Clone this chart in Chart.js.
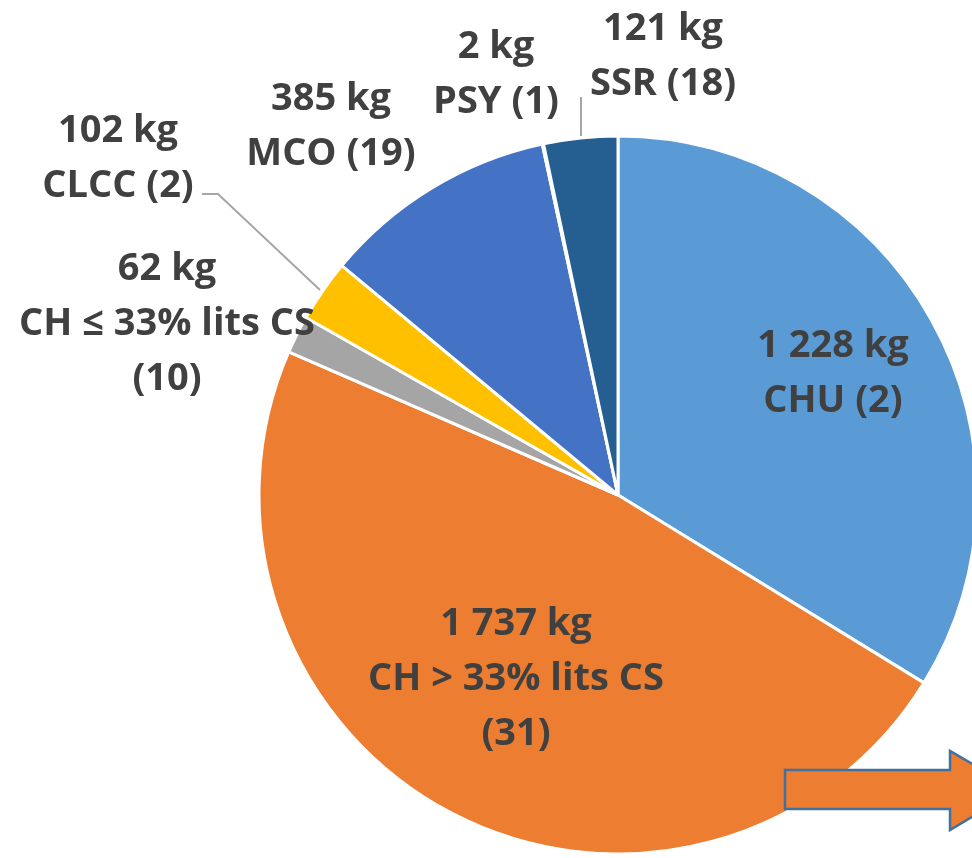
<!DOCTYPE html>
<html>
<head>
<meta charset="utf-8">
<script src="https://cdn.jsdelivr.net/npm/chart.js@4.4.1/dist/chart.umd.min.js"></script>
<style>
	html, body { margin: 0; padding: 0; background: #fff; overflow: hidden; }
	#wrap { position: absolute; left: 0; top: 0; width: 1030px; height: 858px; }
</style>
</head>
<body>
<div id="wrap"><canvas id="pie" width="1030" height="858"></canvas></div>
<script>
// data (kg, number of establishments)
const categories = ['CHU', 'CH > 33% lits CS', 'CH ≤ 33% lits CS', 'CLCC', 'MCO', 'PSY', 'SSR'];
const weights = [1228, 1737, 62, 102, 385, 2, 121];
const counts = [2, 31, 10, 2, 19, 1, 18];
const colors = ['#5B9BD5', '#ED7D31', '#A5A5A5', '#FFC000', '#4472C4', '#70AD47', '#255E91'];

// label layout: centre x, baseline of first line, optional leader line
const labelLayout = [
	{ x: 833, y: 357 },
	{ x: 516, y: 635 },
	{ x: 167, y: 280 },
	{ x: 118, y: 142, leader: [[202, 194], [218, 194], [320, 290]] },
	{ x: 331, y: 110 },
	{ x: 496, y: 58 },
	{ x: 663, y: 40, leader: [[581, 97], [581, 136]] }
];

const fmtKg = v => v.toLocaleString('fr-FR').replace(/\s/g, ' ') + ' kg';

// split long category names onto two lines like the original
function labelLines(i) {
	const name = categories[i], n = `(${counts[i]})`;
	const lines = [fmtKg(weights[i])];
	if (name.length > 10) { lines.push(name, n); } else { lines.push(`${name} ${n}`); }
	return lines;
}

const labelsPlugin = {
	id: 'labels',
	afterDraw(chart) {
		const ctx = chart.ctx;
		ctx.save();
		// leader lines
		ctx.strokeStyle = '#A6A6A6';
		ctx.lineWidth = 2;
		labelLayout.forEach(l => {
			if (!l.leader) return;
			ctx.beginPath();
			l.leader.forEach((p, k) => k ? ctx.lineTo(p[0], p[1]) : ctx.moveTo(p[0], p[1]));
			ctx.stroke();
		});
		ctx.font = 'bold 38px "Open Sans"';
		ctx.fillStyle = '#404040';
		ctx.textAlign = 'center';
		ctx.textBaseline = 'alphabetic';
		labelLayout.forEach((l, i) => {
			labelLines(i).forEach((t, k) => ctx.fillText(t, l.x, l.y + k * 55));
		});
		// block arrow bottom right
		ctx.beginPath();
		ctx.moveTo(785, 770);
		ctx.lineTo(950, 770);
		ctx.lineTo(950, 751);
		ctx.lineTo(1017, 790);
		ctx.lineTo(950, 830);
		ctx.lineTo(950, 809);
		ctx.lineTo(785, 809);
		ctx.closePath();
		ctx.fillStyle = '#ED7D31';
		ctx.fill();
		ctx.strokeStyle = '#41719C';
		ctx.lineWidth = 2.5;
		ctx.stroke();
		ctx.restore();
	}
};

document.fonts.load('bold 38px "Open Sans"').then(() => {
	new Chart(document.getElementById('pie'), {
		type: 'pie',
		data: {
			labels: categories,
			datasets: [{
				data: weights,
				backgroundColor: colors,
				borderColor: '#ffffff',
				borderWidth: 3,
				hoverOffset: 0
			}]
		},
		options: {
			responsive: false,
			animation: false,
			radius: 359,
			layout: { padding: { left: 259, right: 53, top: 136, bottom: 4 } },
			plugins: {
				legend: { display: false },
				tooltip: { enabled: false }
			}
		},
		plugins: [labelsPlugin]
	});
});
</script>
</body>
</html>
